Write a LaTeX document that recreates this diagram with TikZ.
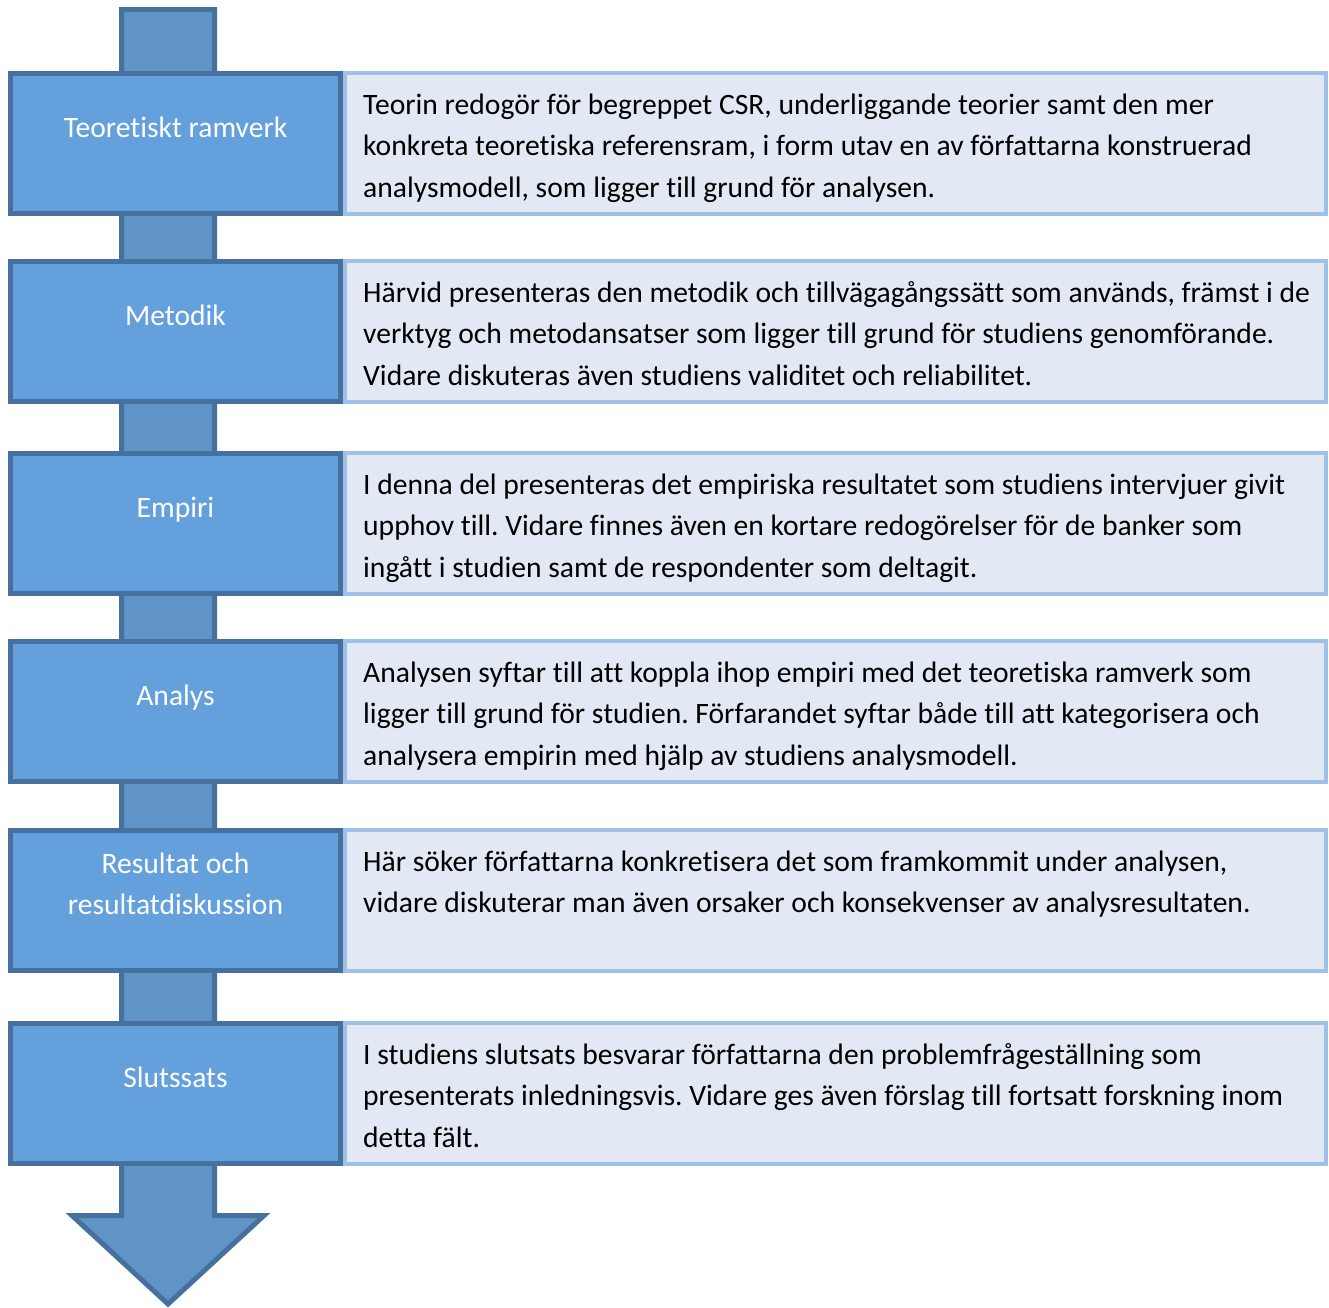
\documentclass[tikz,border=0pt]{standalone}
\usepackage{fontspec}
\setmainfont{Carlito}[Ligatures=NoCommon]
\frenchspacing
\definecolor{shaftfill}{RGB}{96,148,198}
\definecolor{darkedge}{RGB}{70,113,158}
\definecolor{boxfill}{RGB}{99,160,220}
\definecolor{descfill}{RGB}{226,233,244}
\definecolor{descedge}{RGB}{158,193,231}
\tikzset{
  bluebox/.style={draw=darkedge, fill=boxfill, line width=5pt, minimum width=330pt, minimum height=140pt, inner sep=0pt},
  descbox/.style={draw=descedge, fill=descfill, line width=4pt, minimum width=981pt, minimum height=141pt, inner sep=0pt},
  desctext/.style={anchor=base west, inner sep=0pt, text=black, font=\fontsize{29.6}{41.5}\selectfont},
  steptext/.style={anchor=base, inner sep=0pt, text=white, font=\fontsize{29.6}{41}\selectfont},
}
\newcommand{\desclines}[1]{\parbox[t]{960pt}{\raggedright\frenchspacing\baselineskip=41.5pt #1}}
\newcommand{\steplines}[1]{\parbox[t]{320pt}{\centering\baselineskip=41pt #1}}
\begin{document}
\begin{tikzpicture}[x=1pt,y=-1pt]
\useasboundingbox (0,0) rectangle (1329,1307);
% shaft arrow
\draw[darkedge, fill=shaftfill, line width=5pt, line join=miter]
  (121.5,9.5) -- (214.5,9.5) -- (214.5,1215.5) -- (264,1215.5) -- (168,1304) -- (72,1215.5) -- (121.5,1215.5) -- cycle;
% rows: top, centre
\foreach \i/\top in {1/71,2/259,3/451,4/639,5/828,6/1021}{
  \node[descbox] (d\i) at (835.5,\top+72.5) {};
  \node[bluebox] (b\i) at (175.5,\top+72.5) {};
}
% step labels
\node[steptext] (s1) at ([yshift=6.5pt]b1.center) {Teoretiskt ramverk};
\node[steptext] (s2) at ([yshift=6.5pt]b2.center) {Metodik};
\node[steptext] (s3) at ([yshift=6.5pt]b3.center) {Empiri};
\node[steptext] (s4) at ([yshift=6.5pt]b4.center) {Analys};
\node[steptext] (s5) at ([yshift=27.5pt]b5.center) {\steplines{Resultat och\\resultatdiskussion}};
\node[steptext] (s6) at ([yshift=6.5pt]b6.center) {Slutssats};
% descriptions
\node[desctext] (t1) at ([xshift=20pt,yshift=-43pt]d1.north west) {\desclines{Teorin redogör för begreppet CSR, underliggande teorier samt den mer\\konkreta teoretiska referensram, i form utav en av författarna konstruerad\\analysmodell, som ligger till grund för analysen.}};
\node[desctext] (t2) at ([xshift=20pt,yshift=-43pt]d2.north west) {\desclines{Härvid presenteras den metodik och tillvägagångssätt som används, främst i de\\verktyg och metodansatser som ligger till grund för studiens genomförande.\\Vidare diskuteras även studiens validitet och reliabilitet.}};
\node[desctext] (t3) at ([xshift=20pt,yshift=-43pt]d3.north west) {\desclines{I denna del presenteras det empiriska resultatet som studiens intervjuer givit\\upphov till. Vidare finnes även en kortare redogörelser för de banker som\\ingått i studien samt de respondenter som deltagit.}};
\node[desctext] (t4) at ([xshift=20pt,yshift=-43pt]d4.north west) {\desclines{Analysen syftar till att koppla ihop empiri med det teoretiska ramverk som\\ligger till grund för studien. Förfarandet syftar både till att kategorisera och\\analysera empirin med hjälp av studiens analysmodell.}};
\node[desctext] (t5) at ([xshift=20pt,yshift=-43pt]d5.north west) {\desclines{Här söker författarna konkretisera det som framkommit under analysen,\\vidare diskuterar man även orsaker och konsekvenser av analysresultaten.}};
\node[desctext] (t6) at ([xshift=20pt,yshift=-43pt]d6.north west) {\desclines{I studiens slutsats besvarar författarna den problemfrågeställning som\\presenterats inledningsvis. Vidare ges även förslag till fortsatt forskning inom\\detta fält.}};
\end{tikzpicture}
\end{document}
